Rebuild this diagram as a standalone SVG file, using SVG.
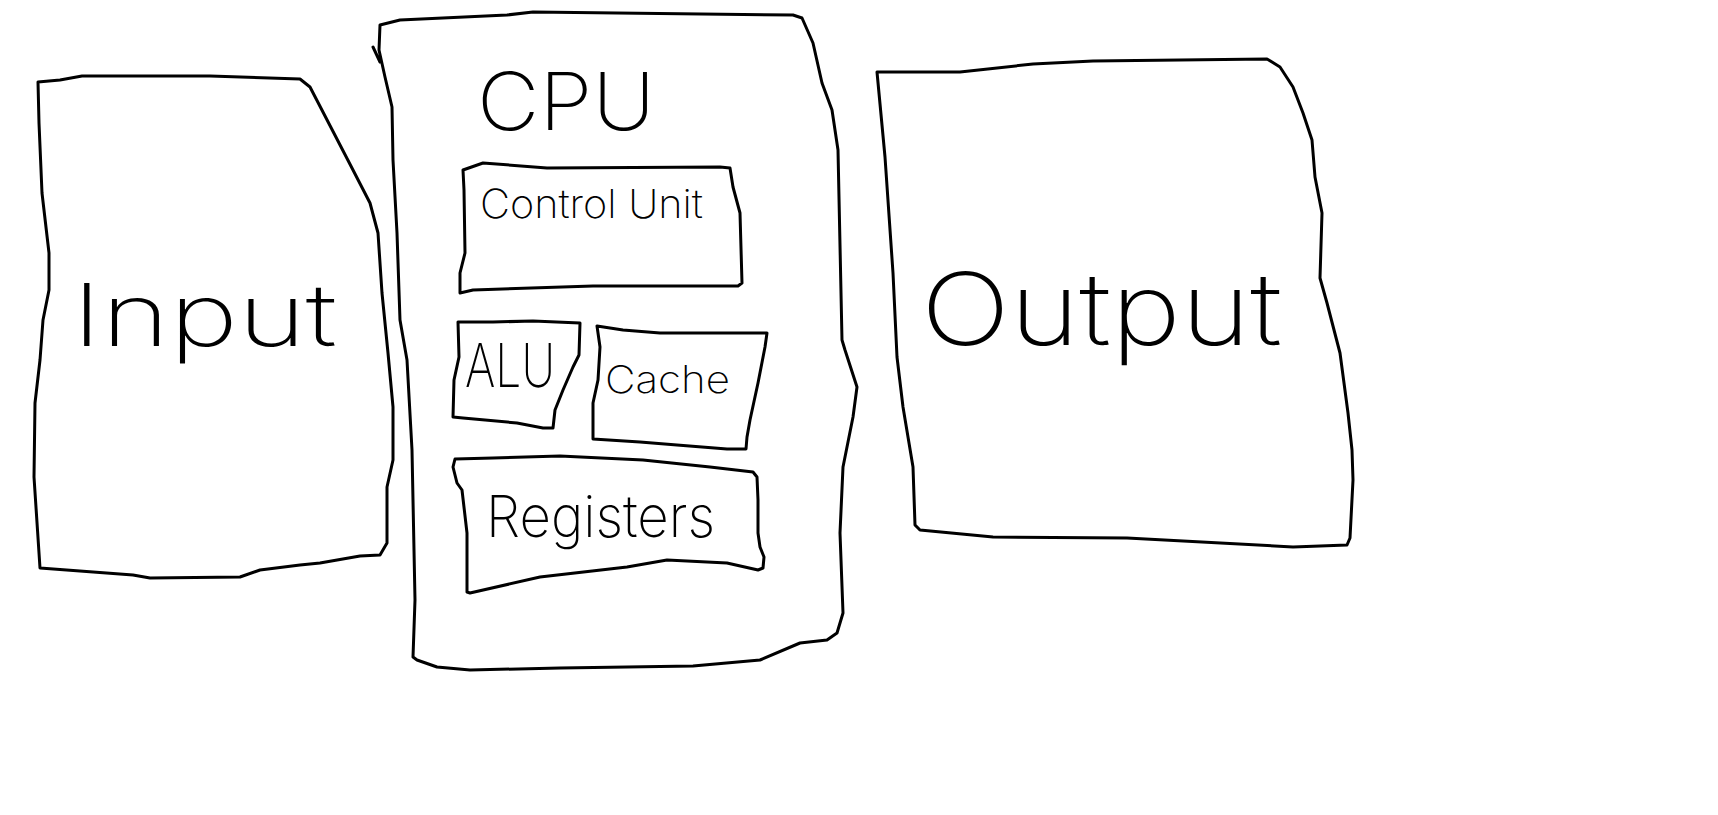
<svg xmlns="http://www.w3.org/2000/svg" width="1718" height="815" viewBox="0 0 1718 815">
<style>
.box{fill:none;stroke:#000;stroke-width:3;stroke-linejoin:round;stroke-linecap:round}
.t{font-family:Inter,Roboto,Lato,"Liberation Sans",sans-serif;font-weight:200;fill:#000}
</style>
<rect width="1718" height="815" fill="#fff"/>
<g id="connectors"/>
<g id="input">
<path class="box" d="M38,82 L60,80 L82,76 L210,76 L300,79 L310,87 L353,170 L370,203 L378,233 L382,293 L388,353 L393,407 L393,460 L387,487 L387,543 L380,555 L360,556 L320,563 L300,565 L260,570 L240,577 L150,578 L133,575 L40,568 L34,477 L35,403 L40,360 L43,320 L49,290 L49,253 L42,193 L39,123 Z"/>
<text class="t" x="72" y="346" font-size="86" textLength="265" lengthAdjust="spacingAndGlyphs">Input</text>
</g>
<g id="cpu">
<path class="box" d="M380,25 L400,20 L507,15 L533,12 L793,15 L802,18 L813,43 L822,83 L832,110 L838,150 L842,340 L845,350 L857,387 L853,417 L843,467 L840,533 L843,613 L837,633 L827,640 L800,643 L760,660 L693,666 L627,667 L560,668 L470,670 L437,667 L417,660 L413,657 L415,600 L412,450 L407,360 L400,320 L397,233 L393,160 L392,107 L385,77 L379,50 Z M373,47 L380,62"/>
<text class="t" x="477" y="130" font-size="80" textLength="178" lengthAdjust="spacingAndGlyphs">CPU</text>
</g>
<g id="control-unit">
<path class="box" d="M463,170 L483,163 L547,168 L720,167 L730,168 L733,187 L740,213 L742,283 L738,286 L593,286 L473,290 L460,293 L460,273 L465,253 L464,190 Z"/>
<text class="t" x="480" y="218" font-size="40" textLength="223" lengthAdjust="spacingAndGlyphs">Control Unit</text>
</g>
<g id="alu">
<path class="box" d="M458,322 L493,322 L533,321 L580,323 L579,355 L573,367 L563,390 L555,410 L553,428 L543,428 L517,423 L463,418 L453,417 L454,380 L459,357 Z"/>
<text class="t" x="465" y="387" font-size="60" textLength="90" lengthAdjust="spacingAndGlyphs">ALU</text>
</g>
<g id="cache">
<path class="box" d="M597,326 L623,330 L660,333 L727,333 L767,333 L765,347 L758,383 L750,420 L747,437 L746,449 L727,449 L677,445 L640,442 L593,439 L593,403 L598,380 L600,347 Z"/>
<text class="t" x="605" y="393" font-size="38" textLength="125" lengthAdjust="spacingAndGlyphs">Cache</text>
</g>
<g id="registers">
<path class="box" d="M455,459 L493,458 L560,456 L643,460 L710,467 L753,472 L757,477 L758,500 L758,533 L760,547 L764,557 L763,568 L758,570 L727,563 L667,560 L627,567 L540,577 L470,593 L467,592 L467,533 L462,490 L457,483 L453,467 Z"/>
<text class="t" x="486" y="537" font-size="58" textLength="229" lengthAdjust="spacingAndGlyphs">Registers</text>
</g>
<g id="output">
<path class="box" d="M877,72 L960,72 L1033,64 L1093,61 L1267,59 L1280,67 L1293,87 L1303,113 L1312,140 L1315,177 L1322,213 L1320,278 L1327,303 L1340,353 L1348,413 L1352,450 L1353,480 L1350,538 L1347,545 L1293,547 L1127,538 L993,537 L920,530 L915,525 L913,467 L903,407 L897,357 L893,273 L885,157 Z"/>
<text class="t" x="921" y="345" font-size="100" textLength="361" lengthAdjust="spacingAndGlyphs">Output</text>
</g>
</svg>
